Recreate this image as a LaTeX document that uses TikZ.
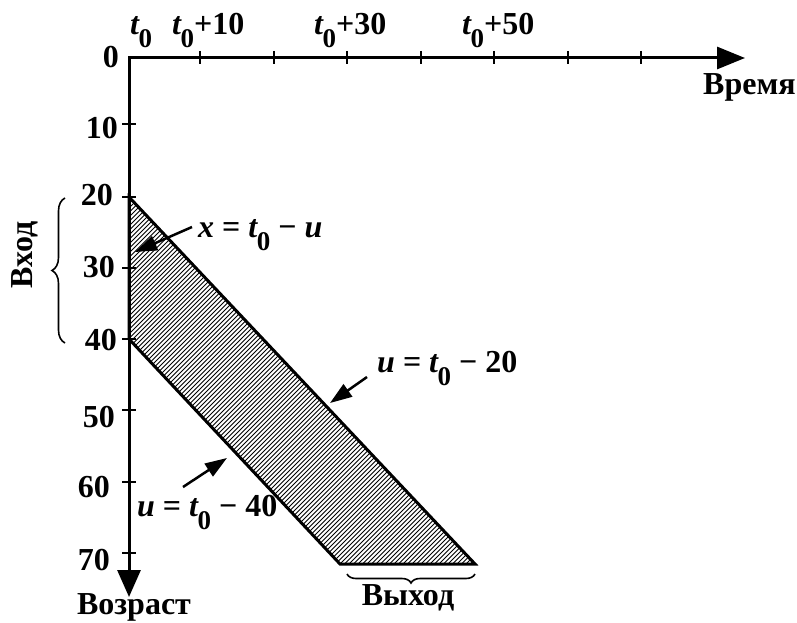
\documentclass[tikz,border=0pt]{standalone}
\usepackage{fontspec}
\setmainfont{Liberation Serif}
\usetikzlibrary{arrows.meta,decorations.pathreplacing}
\newcommand\tsub{{\itshape t}\kern-0.5pt\raisebox{-13pt}{\fontsize{27}{27}\selectfont 0}}
\begin{document}
\begin{tikzpicture}[x=1pt,y=-1pt,
  lbl/.style={font=\fontsize{32}{38}\selectfont\bfseries, inner sep=0pt},
  axis/.style={line width=3pt},
  tickmark/.style={line width=2.5pt},
  hatch/.style={line width=1pt},
  ann/.style={line width=2.5pt,-{Triangle[length=22pt,width=15pt]}},
  brc/.style={line width=1.6pt,decorate,decoration={brace,amplitude=#1}}]
\useasboundingbox (0,0) rectangle (797,623);
% axes
\coordinate (O) at (129,58);
\coordinate (xend) at (745,58);
\coordinate (yend) at (129,597);
\draw[axis,{Triangle[length=27pt,width=23pt]}-{Triangle[length=28pt,width=22pt]}] (yend) -- (O) -- (xend);
\foreach \x in {200,274,347,421,494,568,641} \draw[tickmark] (\x,51) -- (\x,64);
\foreach \y in {124,197,268,339,410,482,553} \draw[tickmark] (122,\y) -- (136,\y);
% region
\coordinate (A) at (129,197);
\coordinate (B) at (475,564);
\coordinate (C) at (340,564);
\coordinate (D) at (129,339);
\begin{scope}
\clip (A) -- (B) -- (C) -- (D) -- cycle;
\foreach \a in {-290,-285.5,...,450} \draw[hatch] (\a,600) -- ++(700,-700);
\end{scope}
\draw[line width=3pt,line join=miter] (A) -- (B) -- (C) -- (D) -- cycle;
% time labels
\node[lbl,anchor=base west] (l0) at (130,35) {\tsub};
\node[lbl,anchor=base west] (l10) at (172,35) {\tsub+10};
\node[lbl,anchor=base west] (l30) at (314,35) {\tsub+30};
\node[lbl,anchor=base west] (l50) at (462,35) {\tsub+50};
\node[lbl,anchor=base west] (vremya) at (703,95) {Время};
% age labels
\node[lbl,anchor=base east] (a0) at (119,68) {0};
\node[lbl,anchor=base east] (a10) at (118,139) {10};
\node[lbl,anchor=base east] (a20) at (113,205) {20};
\node[lbl,anchor=base east] (a30) at (115,277) {30};
\node[lbl,anchor=base east] (a40) at (117,350) {40};
\node[lbl,anchor=base east] (a50) at (115,427) {50};
\node[lbl,anchor=base east] (a60) at (110,497) {60};
\node[lbl,anchor=base east] (a70) at (110,570) {70};
\node[lbl] (vozrast) at (134,607) {Возраст};
% braces
\draw[brc=13pt] (65,343) -- (65,198);
\node[lbl,rotate=90] (vhod) at (25,255) {Вход};
\draw[brc=9pt] (475,574) -- (347,574);
\node[lbl] (vyhod) at (408,598) {Выход};
% annotations
\node[lbl,anchor=base west] (e1) at (198,237) {{\itshape x} = \tsub\ − {\itshape u}};
\coordinate (e1s) at (192,227);
\coordinate (e1t) at (135,252);
\draw[ann] (e1s) -- (e1t);
\node[lbl,anchor=base west] (e2) at (377,372) {{\itshape u} = \tsub\ − 20};
\coordinate (e2s) at (367,377);
\coordinate (e2t) at (330,403);
\draw[ann] (e2s) -- (e2t);
\node[lbl,anchor=base west] (e3) at (137,516) {{\itshape u} = \tsub\ − 40};
\coordinate (e3s) at (183,487);
\coordinate (e3t) at (227,458);
\draw[ann] (e3s) -- (e3t);
\end{tikzpicture}
\end{document}
